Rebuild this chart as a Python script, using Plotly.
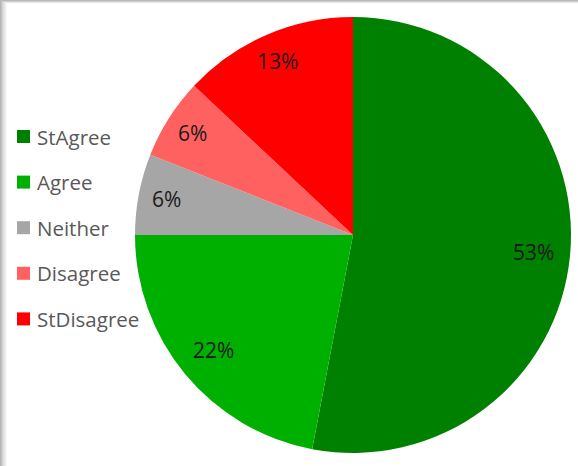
import math
import plotly.graph_objects as go

categories = ["StAgree", "Agree", "Neither", "Disagree", "StDisagree"]
values = [53, 22, 6, 6, 13]
colors = ["#008000", "#00B000", "#A6A6A6", "#FF6161", "#FF0000"]

W, H = 578, 466
cx, cy, R = 353, 235, 218  # pixel geometry of the pie

fig = go.Figure()
fig.add_trace(go.Pie(
    labels=categories, values=values, sort=False, direction="clockwise",
    rotation=0, marker=dict(colors=colors, line=dict(width=0)),
    textinfo="none", hoverinfo="label+percent", showlegend=False,
    domain=dict(x=[(cx - R) / W, (cx + R) / W], y=[(H - cy - R) / H, (H - cy + R) / H]),
))

# data labels along slice bisectors
total = sum(values)
cum = 0
annotations = []
for v in values:
    mid = (cum + v / 2) / total * 2 * math.pi
    cum += v
    rf = 0.83 if v / total > 0.15 else 0.87
    px = cx + rf * R * math.sin(mid)
    py = cy - rf * R * math.cos(mid)
    annotations.append(dict(
        x=px / W, y=1 - py / H, xref="paper", yref="paper",
        text=f"{round(v / total * 100)}%", showarrow=False,
        font=dict(family="Open Sans", size=21, color="#1A1A1A"),
        xanchor="center", yanchor="middle",
    ))

# legend drawn manually
shapes = []
ly0, lstep = 136.5, 45.6
for i, (c, col) in enumerate(zip(categories, colors)):
    yc = ly0 + i * lstep
    shapes.append(dict(type="rect", xref="paper", yref="paper",
                       x0=17 / W, x1=30 / W, y0=1 - (yc + 6.5) / H, y1=1 - (yc - 6.5) / H,
                       fillcolor=col, line=dict(width=0)))
    annotations.append(dict(
        x=35 / W, y=1 - yc / H, xref="paper", yref="paper", text=c, showarrow=False,
        font=dict(family="Open Sans", size=20.5, color="#595959"),
        xanchor="left", yanchor="middle",
    ))

# frame shadow (left and top)
greys = ["#B4B4B4", "#C4C4C4", "#D2D2D2", "#DEDEDE", "#E8E8E8", "#F0F0F0", "#F7F7F7"]
for i, g in enumerate(greys):
    shapes.append(dict(type="rect", xref="paper", yref="paper", layer="below",
                       x0=i / W, x1=(i + 1) / W, y0=0, y1=1 - i * 0.45 / H,
                       fillcolor=g, line=dict(width=0)))
for i, g in enumerate(["#B8B8B8", "#D0D0D0", "#E6E6E6"]):
    shapes.append(dict(type="rect", xref="paper", yref="paper", layer="below",
                       x0=i * 2 / W, x1=1, y0=1 - (i + 1) / H, y1=1 - i / H,
                       fillcolor=g, line=dict(width=0)))

fig.update_layout(
    width=W, height=H, margin=dict(l=0, r=0, t=0, b=0),
    paper_bgcolor="white", plot_bgcolor="white",
    annotations=annotations, shapes=shapes, showlegend=False,
)
fig.write_html("out.html")
